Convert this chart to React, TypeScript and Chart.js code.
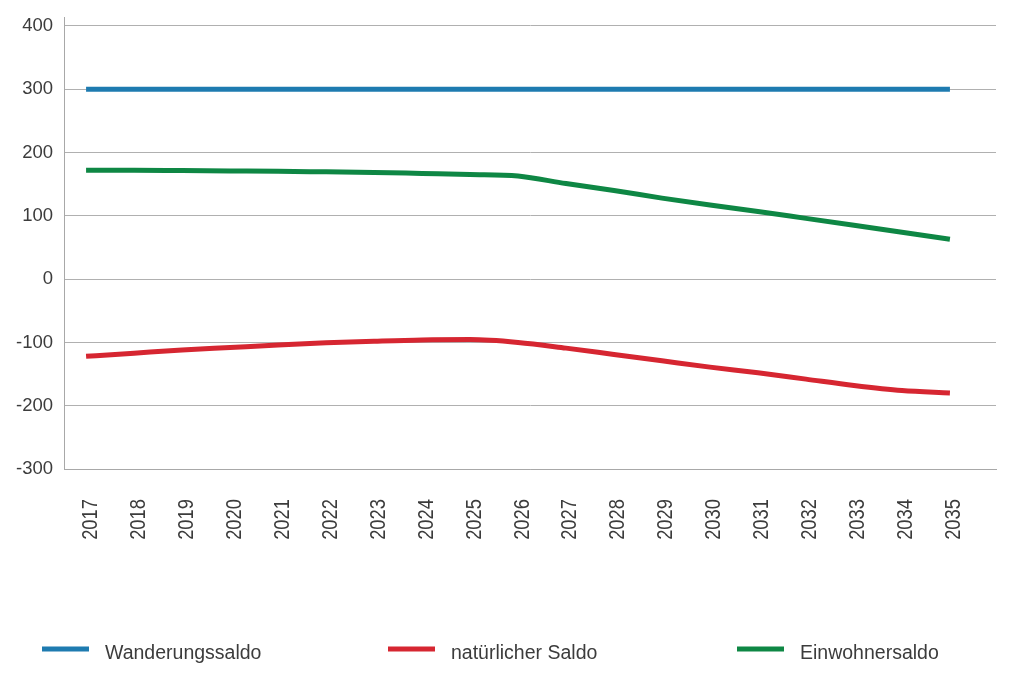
import { useEffect, useRef } from "react";
import { Chart, registerables } from "chart.js";

Chart.register(...registerables);

const years = [2017, 2018, 2019, 2020, 2021, 2022, 2023, 2024, 2025, 2026, 2027, 2028, 2029, 2030, 2031, 2032, 2033, 2034, 2035];
const wanderungssaldo = [300, 300, 300, 300, 300, 300, 300, 300, 300, 300, 300, 300, 300, 300, 300, 300, 300, 300, 300];
const natuerlicherSaldo = [-122, -117, -112, -108, -104, -100.5, -98, -96, -95.5, -100, -109, -119, -129, -139, -148, -158, -168, -176, -180];
const einwohnersaldo = [172, 172, 171.5, 171, 170.5, 169.5, 168.5, 167, 165.5, 163, 151, 140, 128, 117, 107, 96, 85, 74, 63];
const yTickValues = [-300, -200, -100, 0, 100, 200, 300, 400];
const seriesLabels = ["Wanderungssaldo", "natürlicher Saldo", "Einwohnersaldo"];

const toPoints = (vals: number[]) => years.map((x, i) => ({ x, y: vals[i] }));

const TEXT = "#3c3c3c";

const legendPlugin = {
  id: "customLegend",
  afterDraw(chart: any) {
    const ctx = chart.ctx;
    const starts = [42, 388, 737];
    const y = 649;
    ctx.save();
    chart.data.datasets.forEach((ds: any, i: number) => {
      const x0 = starts[i];
      ctx.beginPath();
      ctx.strokeStyle = ds.borderColor;
      ctx.lineWidth = 5;
      ctx.lineCap = "butt";
      ctx.moveTo(x0, y);
      ctx.lineTo(x0 + 47, y);
      ctx.stroke();
      ctx.fillStyle = TEXT;
      ctx.font = "19.5px 'Liberation Sans', Arial, sans-serif";
      ctx.textBaseline = "alphabetic";
      ctx.textAlign = "left";
      ctx.fillText(ds.label, x0 + 63, 659);
    });
    ctx.restore();
  },
};

// condensed, rotated year labels placed through the x scale
const xLabelPlugin = {
  id: "xLabels",
  afterDraw(chart: any) {
    const ctx = chart.ctx;
    const xs = chart.scales.x;
    const top = xs.top + 30;
    ctx.save();
    ctx.fillStyle = TEXT;
    ctx.font = "22.4px 'Liberation Sans', Arial, sans-serif";
    ctx.textAlign = "right";
    ctx.textBaseline = "alphabetic";
    years.forEach((yr) => {
      const px = xs.getPixelForValue(yr);
      ctx.save();
      ctx.translate(px + 10.5, top);
      ctx.rotate(-Math.PI / 2);
      ctx.scale(0.82, 1);
      ctx.fillText(String(yr), 0, 0);
      ctx.restore();
    });
    ctx.restore();
  },
};

export default function App() {
  const ref = useRef<HTMLCanvasElement | null>(null);

  useEffect(() => {
    if (!ref.current) return;
    const common = {
      borderWidth: 5,
      pointRadius: 0,
      cubicInterpolationMode: "monotone",
      borderCapStyle: "butt",
    };
    const chart = new Chart(ref.current, {
      type: "line",
      data: {
        datasets: [
          { ...common, label: seriesLabels[0], data: toPoints(wanderungssaldo), borderColor: "#1e7bb0" },
          { ...common, label: seriesLabels[1], data: toPoints(natuerlicherSaldo), borderColor: "#d62631" },
          { ...common, label: seriesLabels[2], data: toPoints(einwohnersaldo), borderColor: "#0e8744" },
        ],
      },
      options: {
        animation: false,
        responsive: false,
        maintainAspectRatio: false,
        layout: { padding: { left: 0, right: 28, top: 17, bottom: 0 } },
        plugins: {
          legend: { display: false },
          tooltip: { enabled: false },
        },
        scales: {
          x: {
            type: "linear",
            min: 2016.54,
            max: 2035.96,
            afterBuildTicks: (scale: any) => {
              scale.ticks = years.map((v) => ({ value: v }));
            },
            afterFit: (scale: any) => {
              scale.height = 227;
              scale.paddingLeft = 0;
              scale.paddingRight = 0;
            },
            grid: { display: false, drawTicks: false },
            border: { display: true, color: "#a8a8a8", width: 1 },
            ticks: { display: false },
          },
          y: {
            type: "linear",
            min: -300,
            max: 414.2,
            afterBuildTicks: (scale: any) => {
              scale.ticks = yTickValues.map((v) => ({ value: v }));
            },
            afterFit: (scale: any) => {
              scale.width = 64;
              scale.paddingTop = 0;
              scale.paddingBottom = 0;
            },
            grid: { color: "#b0b0b0", lineWidth: 1, drawTicks: false },
            border: { display: true, color: "#a8a8a8", width: 1 },
            ticks: {
              padding: 11,
              color: TEXT,
              font: { family: "'Liberation Sans', Arial, sans-serif", size: 18.5 },
              callback: (v: any) => String(v),
            },
          },
        },
      },
      plugins: [legendPlugin, xLabelPlugin],
    } as any);
    return () => chart.destroy();
  }, []);

  return (
    <div style={{ position: "absolute", left: 0, top: 0, width: 1024, height: 696, background: "#fff" }}>
      <canvas ref={ref} width={1024} height={696} style={{ width: 1024, height: 696, display: "block" }} />
    </div>
  );
}
